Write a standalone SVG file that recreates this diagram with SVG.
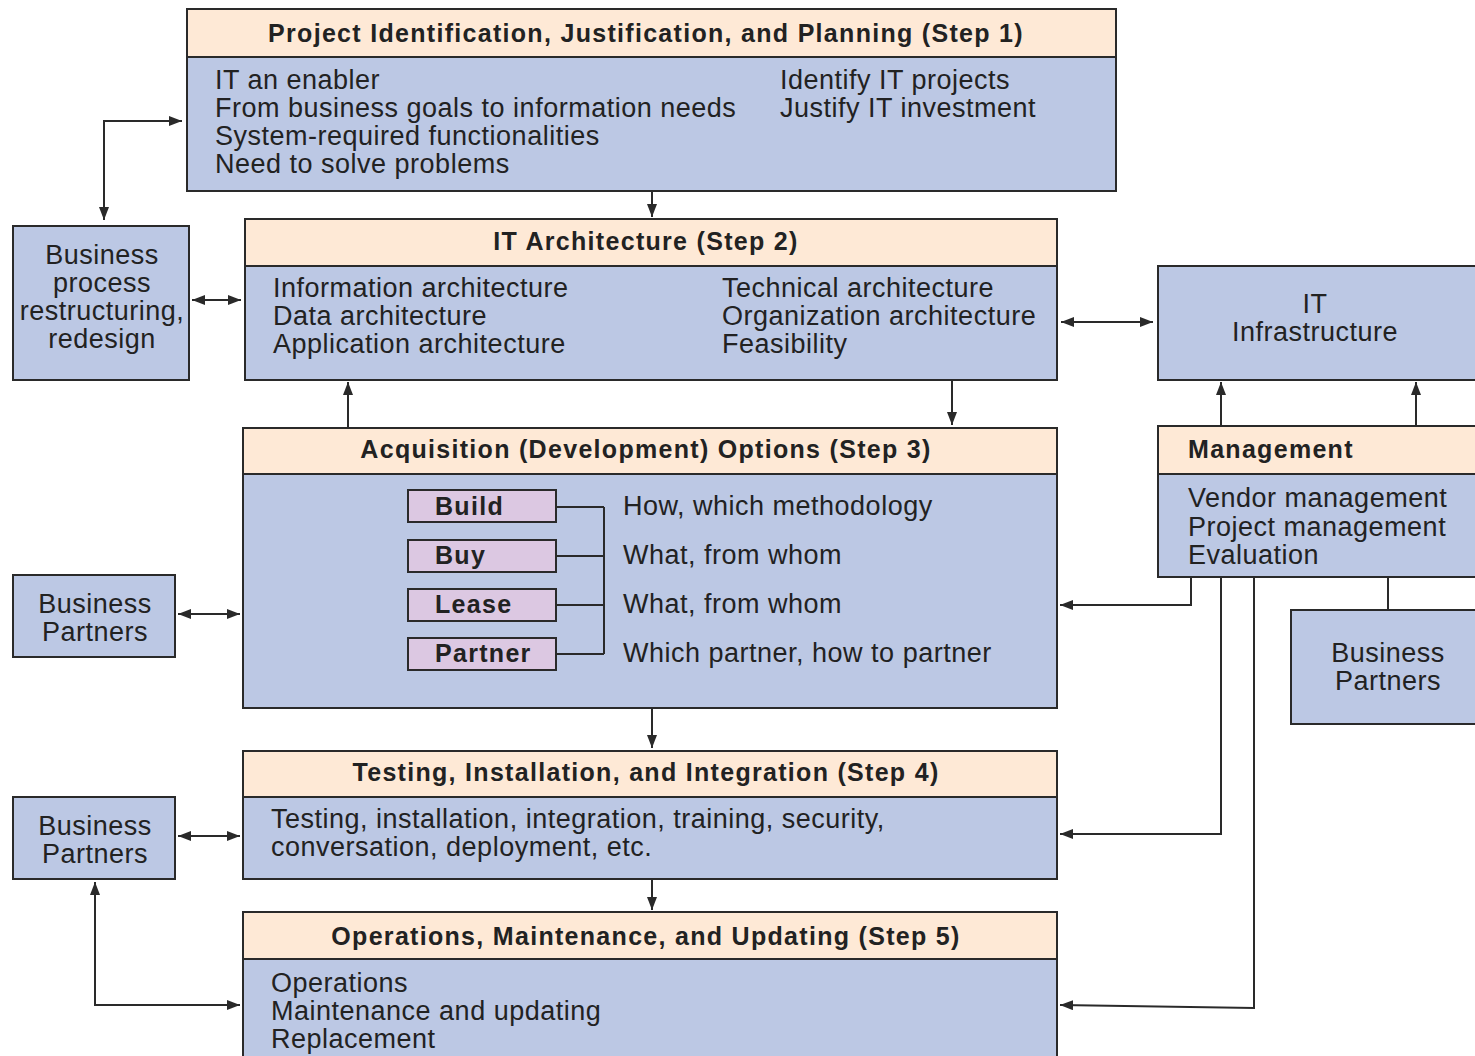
<svg xmlns="http://www.w3.org/2000/svg" width="1475" height="1056" viewBox="0 0 1475 1056">
<style>
.box{fill:#bcc8e4;stroke:#2a2a2a;stroke-width:2}
.hdr{fill:#fee9d6;stroke:#2a2a2a;stroke-width:2}
.opt{fill:#dcc8e2;stroke:#2a2a2a;stroke-width:2}
.t{font-family:"Liberation Sans",Arial,sans-serif;font-size:27px;letter-spacing:0.5px;fill:#222}
.b{font-family:"Liberation Sans",Arial,sans-serif;font-size:25px;letter-spacing:1.3px;font-weight:bold;fill:#222}
.c{text-anchor:middle}
.ln{fill:none;stroke:#2a2a2a;stroke-width:2}
</style>
<defs>
<marker id="ah" viewBox="0 0 13 10" refX="13" refY="5" markerWidth="13" markerHeight="10" markerUnits="userSpaceOnUse" orient="auto-start-reverse">
<path d="M0,0 L13,5 L0,10 Z" fill="#2a2a2a"/>
</marker>
</defs>
<rect width="1475" height="1056" fill="#fff"/>

<g id="step1">
<rect class="box" x="187" y="9" width="929" height="182"/>
<rect class="hdr" x="187" y="9" width="929" height="48"/>
<text class="b c" x="646" y="42">Project Identification, Justification, and Planning (Step 1)</text>
<text class="t" x="215" y="89">IT an enabler</text>
<text class="t" x="215" y="117">From business goals to information needs</text>
<text class="t" x="215" y="145">System-required functionalities</text>
<text class="t" x="215" y="173">Need to solve problems</text>
<text class="t" x="780" y="89">Identify IT projects</text>
<text class="t" x="780" y="117">Justify IT investment</text>
</g>

<g id="bprocess">
<rect class="box" x="13" y="226" width="176" height="154"/>
<text class="t c" x="102" y="264">Business</text>
<text class="t c" x="102" y="292">process</text>
<text class="t c" x="102" y="320">restructuring,</text>
<text class="t c" x="102" y="348">redesign</text>
</g>

<g id="step2">
<rect class="box" x="245" y="219" width="812" height="161"/>
<rect class="hdr" x="245" y="219" width="812" height="47"/>
<text class="b c" x="646" y="250">IT Architecture (Step 2)</text>
<text class="t" x="273" y="297">Information architecture</text>
<text class="t" x="273" y="325">Data architecture</text>
<text class="t" x="273" y="353">Application architecture</text>
<text class="t" x="722" y="297">Technical architecture</text>
<text class="t" x="722" y="325">Organization architecture</text>
<text class="t" x="722" y="353">Feasibility</text>
</g>

<g id="itinfra">
<rect class="box" x="1158" y="266" width="330" height="114"/>
<text class="t c" x="1315" y="313">IT</text>
<text class="t c" x="1315" y="341">Infrastructure</text>
</g>

<g id="management">
<rect class="box" x="1158" y="426" width="330" height="151"/>
<rect class="hdr" x="1158" y="426" width="330" height="48"/>
<text class="b" x="1188" y="458">Management</text>
<text class="t" x="1188" y="507">Vendor management</text>
<text class="t" x="1188" y="536">Project management</text>
<text class="t" x="1188" y="564">Evaluation</text>
</g>

<g id="bpartners-right">
<rect class="box" x="1291" y="610" width="197" height="114"/>
<text class="t c" x="1388" y="662">Business</text>
<text class="t c" x="1388" y="690">Partners</text>
</g>

<g id="step3">
<rect class="box" x="243" y="428" width="814" height="280"/>
<rect class="hdr" x="243" y="428" width="814" height="46"/>
<text class="b c" x="646" y="458">Acquisition (Development) Options (Step 3)</text>
<rect class="opt" x="408" y="490" width="148" height="32"/>
<rect class="opt" x="408" y="540" width="148" height="32"/>
<rect class="opt" x="408" y="589" width="148" height="32"/>
<rect class="opt" x="408" y="638" width="148" height="32"/>
<text class="b" x="435" y="515">Build</text>
<text class="b" x="435" y="564">Buy</text>
<text class="b" x="435" y="613">Lease</text>
<text class="b" x="435" y="662">Partner</text>
<path class="ln" d="M556,507 H604 M556,556 H604 M556,605 H604 M556,654 H604 M604,507 V654"/>
<text class="t" x="623" y="515">How, which methodology</text>
<text class="t" x="623" y="564">What, from whom</text>
<text class="t" x="623" y="613">What, from whom</text>
<text class="t" x="623" y="662">Which partner, how to partner</text>
</g>

<g id="bpartners-1">
<rect class="box" x="13" y="575" width="162" height="82"/>
<text class="t c" x="95" y="613">Business</text>
<text class="t c" x="95" y="641">Partners</text>
</g>

<g id="step4">
<rect class="box" x="243" y="751" width="814" height="128"/>
<rect class="hdr" x="243" y="751" width="814" height="46"/>
<text class="b c" x="646" y="781">Testing, Installation, and Integration (Step 4)</text>
<text class="t" x="271" y="828">Testing, installation, integration, training, security,</text>
<text class="t" x="271" y="856">conversation, deployment, etc.</text>
</g>

<g id="bpartners-2">
<rect class="box" x="13" y="797" width="162" height="82"/>
<text class="t c" x="95" y="835">Business</text>
<text class="t c" x="95" y="863">Partners</text>
</g>

<g id="step5">
<rect class="box" x="243" y="912" width="814" height="160"/>
<rect class="hdr" x="243" y="912" width="814" height="47"/>
<text class="b c" x="646" y="945">Operations, Maintenance, and Updating (Step 5)</text>
<text class="t" x="271" y="992">Operations</text>
<text class="t" x="271" y="1020">Maintenance and updating</text>
<text class="t" x="271" y="1048">Replacement</text>
</g>

<g id="connectors">
<path class="ln" d="M182,121 H104 V220" marker-start="url(#ah)" marker-end="url(#ah)"/>
<path class="ln" d="M192,300 H241" marker-start="url(#ah)" marker-end="url(#ah)"/>
<path class="ln" d="M652,191 V217" marker-end="url(#ah)"/>
<path class="ln" d="M1061,322 H1153" marker-start="url(#ah)" marker-end="url(#ah)"/>
<path class="ln" d="M348,428 V382" marker-end="url(#ah)"/>
<path class="ln" d="M952,380 V425" marker-end="url(#ah)"/>
<path class="ln" d="M1221,426 V382" marker-end="url(#ah)"/>
<path class="ln" d="M1416,426 V382" marker-end="url(#ah)"/>
<path class="ln" d="M1388,577 V610"/>
<path class="ln" d="M1191,577 V605 H1060" marker-end="url(#ah)"/>
<path class="ln" d="M1221,577 V834 H1060" marker-end="url(#ah)"/>
<path class="ln" d="M1254,577 V1008 L1060,1005" marker-end="url(#ah)"/>
<path class="ln" d="M178,614 H240" marker-start="url(#ah)" marker-end="url(#ah)"/>
<path class="ln" d="M652,708 V748" marker-end="url(#ah)"/>
<path class="ln" d="M178,836 H240" marker-start="url(#ah)" marker-end="url(#ah)"/>
<path class="ln" d="M652,879 V910" marker-end="url(#ah)"/>
<path class="ln" d="M240,1005 H95 V882" marker-start="url(#ah)" marker-end="url(#ah)"/>
</g>
</svg>
